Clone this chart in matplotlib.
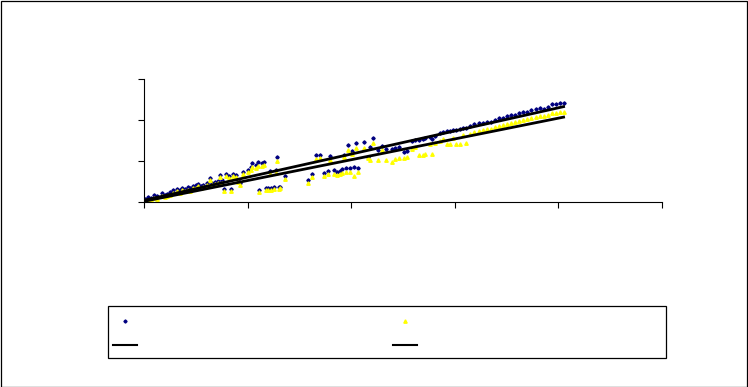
import numpy as np
import matplotlib.pyplot as plt
from matplotlib.lines import Line2D
from matplotlib.patches import Rectangle

# data (shared x for both series)
x_vals = [0.01, 0.04, 0.07, 0.10, 0.13, 0.17, 0.20, 0.22, 0.25, 0.28, 0.32, 0.35, 0.37, 0.40,
          0.42, 0.44, 0.47, 0.50, 0.52, 0.55, 0.57, 0.61, 0.64, 0.66, 0.69, 0.71, 0.73, 0.75,
          0.77, 0.79, 0.82, 0.84, 0.86, 0.89, 0.91, 0.93, 0.96, 1.00, 1.03,
          1.04, 1.08, 1.10, 1.11, 1.14, 1.16, 1.18, 1.20, 1.22, 1.23, 1.25, 1.27, 1.28, 1.30,
          1.31, 1.36,
          1.58, 1.62, 1.66, 1.70, 1.74, 1.78, 1.80, 1.83, 1.86, 1.89, 1.91, 1.93, 1.95, 1.97,
          1.99, 2.01, 2.03, 2.05, 2.07, 2.12, 2.16, 2.18, 2.21, 2.26, 2.30, 2.34, 2.39, 2.42,
          2.46, 2.51, 2.54, 2.59, 2.62, 2.65, 2.69, 2.71, 2.76, 2.78, 2.81, 2.86, 2.89, 2.92,
          2.95, 2.98, 3.01, 3.05, 3.08, 3.11, 3.15, 3.19, 3.23, 3.27, 3.31, 3.35, 3.39, 3.43,
          3.47, 3.50, 3.54, 3.58, 3.62, 3.66, 3.70, 3.74, 3.78, 3.82, 3.86, 3.90, 3.94, 3.98,
          4.02, 4.05]
blue_vals = [0.07, 0.12, 0.10, 0.17, 0.15, 0.22, 0.17, 0.20, 0.24, 0.29, 0.32, 0.29, 0.34, 0.32,
             0.37, 0.34, 0.39, 0.41, 0.44, 0.39, 0.41, 0.46, 0.59, 0.46, 0.49, 0.51, 0.66, 0.54,
             0.32, 0.68, 0.63, 0.32, 0.68, 0.66, 0.54, 0.46, 0.73, 0.78, 0.85,
             0.95, 0.90, 0.98, 0.29, 0.95, 0.98, 0.34, 0.34, 0.76, 0.34, 0.37, 0.78, 1.10, 0.37,
             0.37, 0.63,
             0.54, 0.68, 1.15, 1.15, 0.71, 0.76, 1.12, 0.78, 0.73, 0.76, 0.80, 1.15, 0.83, 1.39,
             0.83, 1.24, 0.85, 1.44, 0.83, 1.46, 1.10, 1.34, 1.56, 1.27, 1.37, 1.29, 1.29, 1.32,
             1.34, 1.22, 1.24, 1.49, 1.51, 1.51, 1.54, 1.56, 1.59, 1.54, 1.61, 1.68, 1.71, 1.73,
             1.73, 1.76, 1.76, 1.78, 1.80, 1.80, 1.85, 1.90, 1.93, 1.93, 1.95, 1.95, 2.00, 2.05,
             2.05, 2.10, 2.12, 2.12, 2.17, 2.20, 2.20, 2.24, 2.27, 2.29, 2.27, 2.32, 2.39, 2.39,
             2.41, 2.41]
yellow_vals = [0.02, 0.05, 0.05, 0.10, 0.07, 0.15, 0.12, 0.15, 0.17, 0.22, 0.27, 0.22, 0.29, 0.27,
               0.29, 0.27, 0.34, 0.34, 0.39, 0.34, 0.37, 0.41, 0.54, 0.41, 0.44, 0.46, 0.61, 0.46,
               0.27, 0.63, 0.59, 0.27, 0.63, 0.61, 0.49, 0.41, 0.68, 0.73, 0.78,
               0.85, 0.83, 0.88, 0.24, 0.88, 0.90, 0.29, 0.29, 0.68, 0.29, 0.32, 0.71, 1.00, 0.32,
               0.34, 0.56,
               0.46, 0.61, 1.05, 1.07, 0.63, 0.68, 1.02, 0.68, 0.66, 0.68, 0.71, 1.10, 0.73, 1.27,
               0.73, 1.17, 0.63, 1.32, 0.73, 1.32, 1.07, 1.02, 1.44, 1.02, 1.27, 1.02, 0.98, 1.05,
               1.07, 1.07, 1.10, 1.29, 1.34, 1.15, 1.15, 1.17, 1.41, 1.17, 1.44, 1.49, 1.54, 1.41,
               1.41, 1.56, 1.41, 1.41, 1.63, 1.44, 1.66, 1.71, 1.73, 1.76, 1.78, 1.78, 1.83, 1.85,
               1.88, 1.90, 1.93, 1.95, 1.98, 2.00, 2.02, 2.05, 2.07, 2.10, 2.10, 2.12, 2.17, 2.17,
               2.20, 2.20]

x = np.array(x_vals)
yb = np.array(blue_vals)
yy = np.array(yellow_vals)

fig = plt.figure(figsize=(7.48, 3.87), dpi=100)
ax = fig.add_axes([144/748, 1 - 202/387, (662-144)/748, (202-79)/387])

ax.plot(x, yb, linestyle="none", marker="D", ms=1.7, color="#000080", mec="#000080")
ax.plot(x, yy, linestyle="none", marker="^", ms=2.5, color="#FFFF00", mec="#FFFF00")

# linear trend lines
xs = np.array([x.min(), x.max()])
for y in (yb, yy):
    k, d = np.polyfit(x, y, 1)
    ax.plot(xs, k*xs + d, color="black", lw=2.0)

ax.set_xlim(0, 5)
ax.set_ylim(0, 3)
ax.set_xticks(range(6))
ax.set_yticks(range(4))
ax.tick_params(direction="out", length=4.5, width=0.8, labelleft=False, labelbottom=False)
for s in ("top", "right"):
    ax.spines[s].set_visible(False)
for s in ("left", "bottom"):
    ax.spines[s].set_linewidth(0.8)

# legend (no text)
handles = [Line2D([], [], linestyle="none", marker="D", ms=1.6, color="#000080"),
           Line2D([], [], color="black", lw=1.5),
           Line2D([], [], linestyle="none", marker="^", ms=2.4, color="#FFFF00"),
           Line2D([], [], color="black", lw=1.5)]
fig.legend(handles, [""]*4, ncol=2, loc="upper left", bbox_to_anchor=(106/748, 1 - 308/387),
           frameon=False, fontsize=10, borderpad=0, handlelength=1.73, handletextpad=0,
           columnspacing=18.4, labelspacing=0.72)
fig.patches.append(Rectangle((108/748, 1 - 358/387), (666-108)/748, 52/387, fill=False,
                             lw=0.9, edgecolor="black", transform=fig.transFigure))
fig.patches.append(Rectangle((0.5/748, 0.5/387), 1 - 1.5/748, 1 - 1.5/387, fill=False,
                             lw=0.9, edgecolor="black", transform=fig.transFigure))

fig.savefig("out.png", dpi=100)
